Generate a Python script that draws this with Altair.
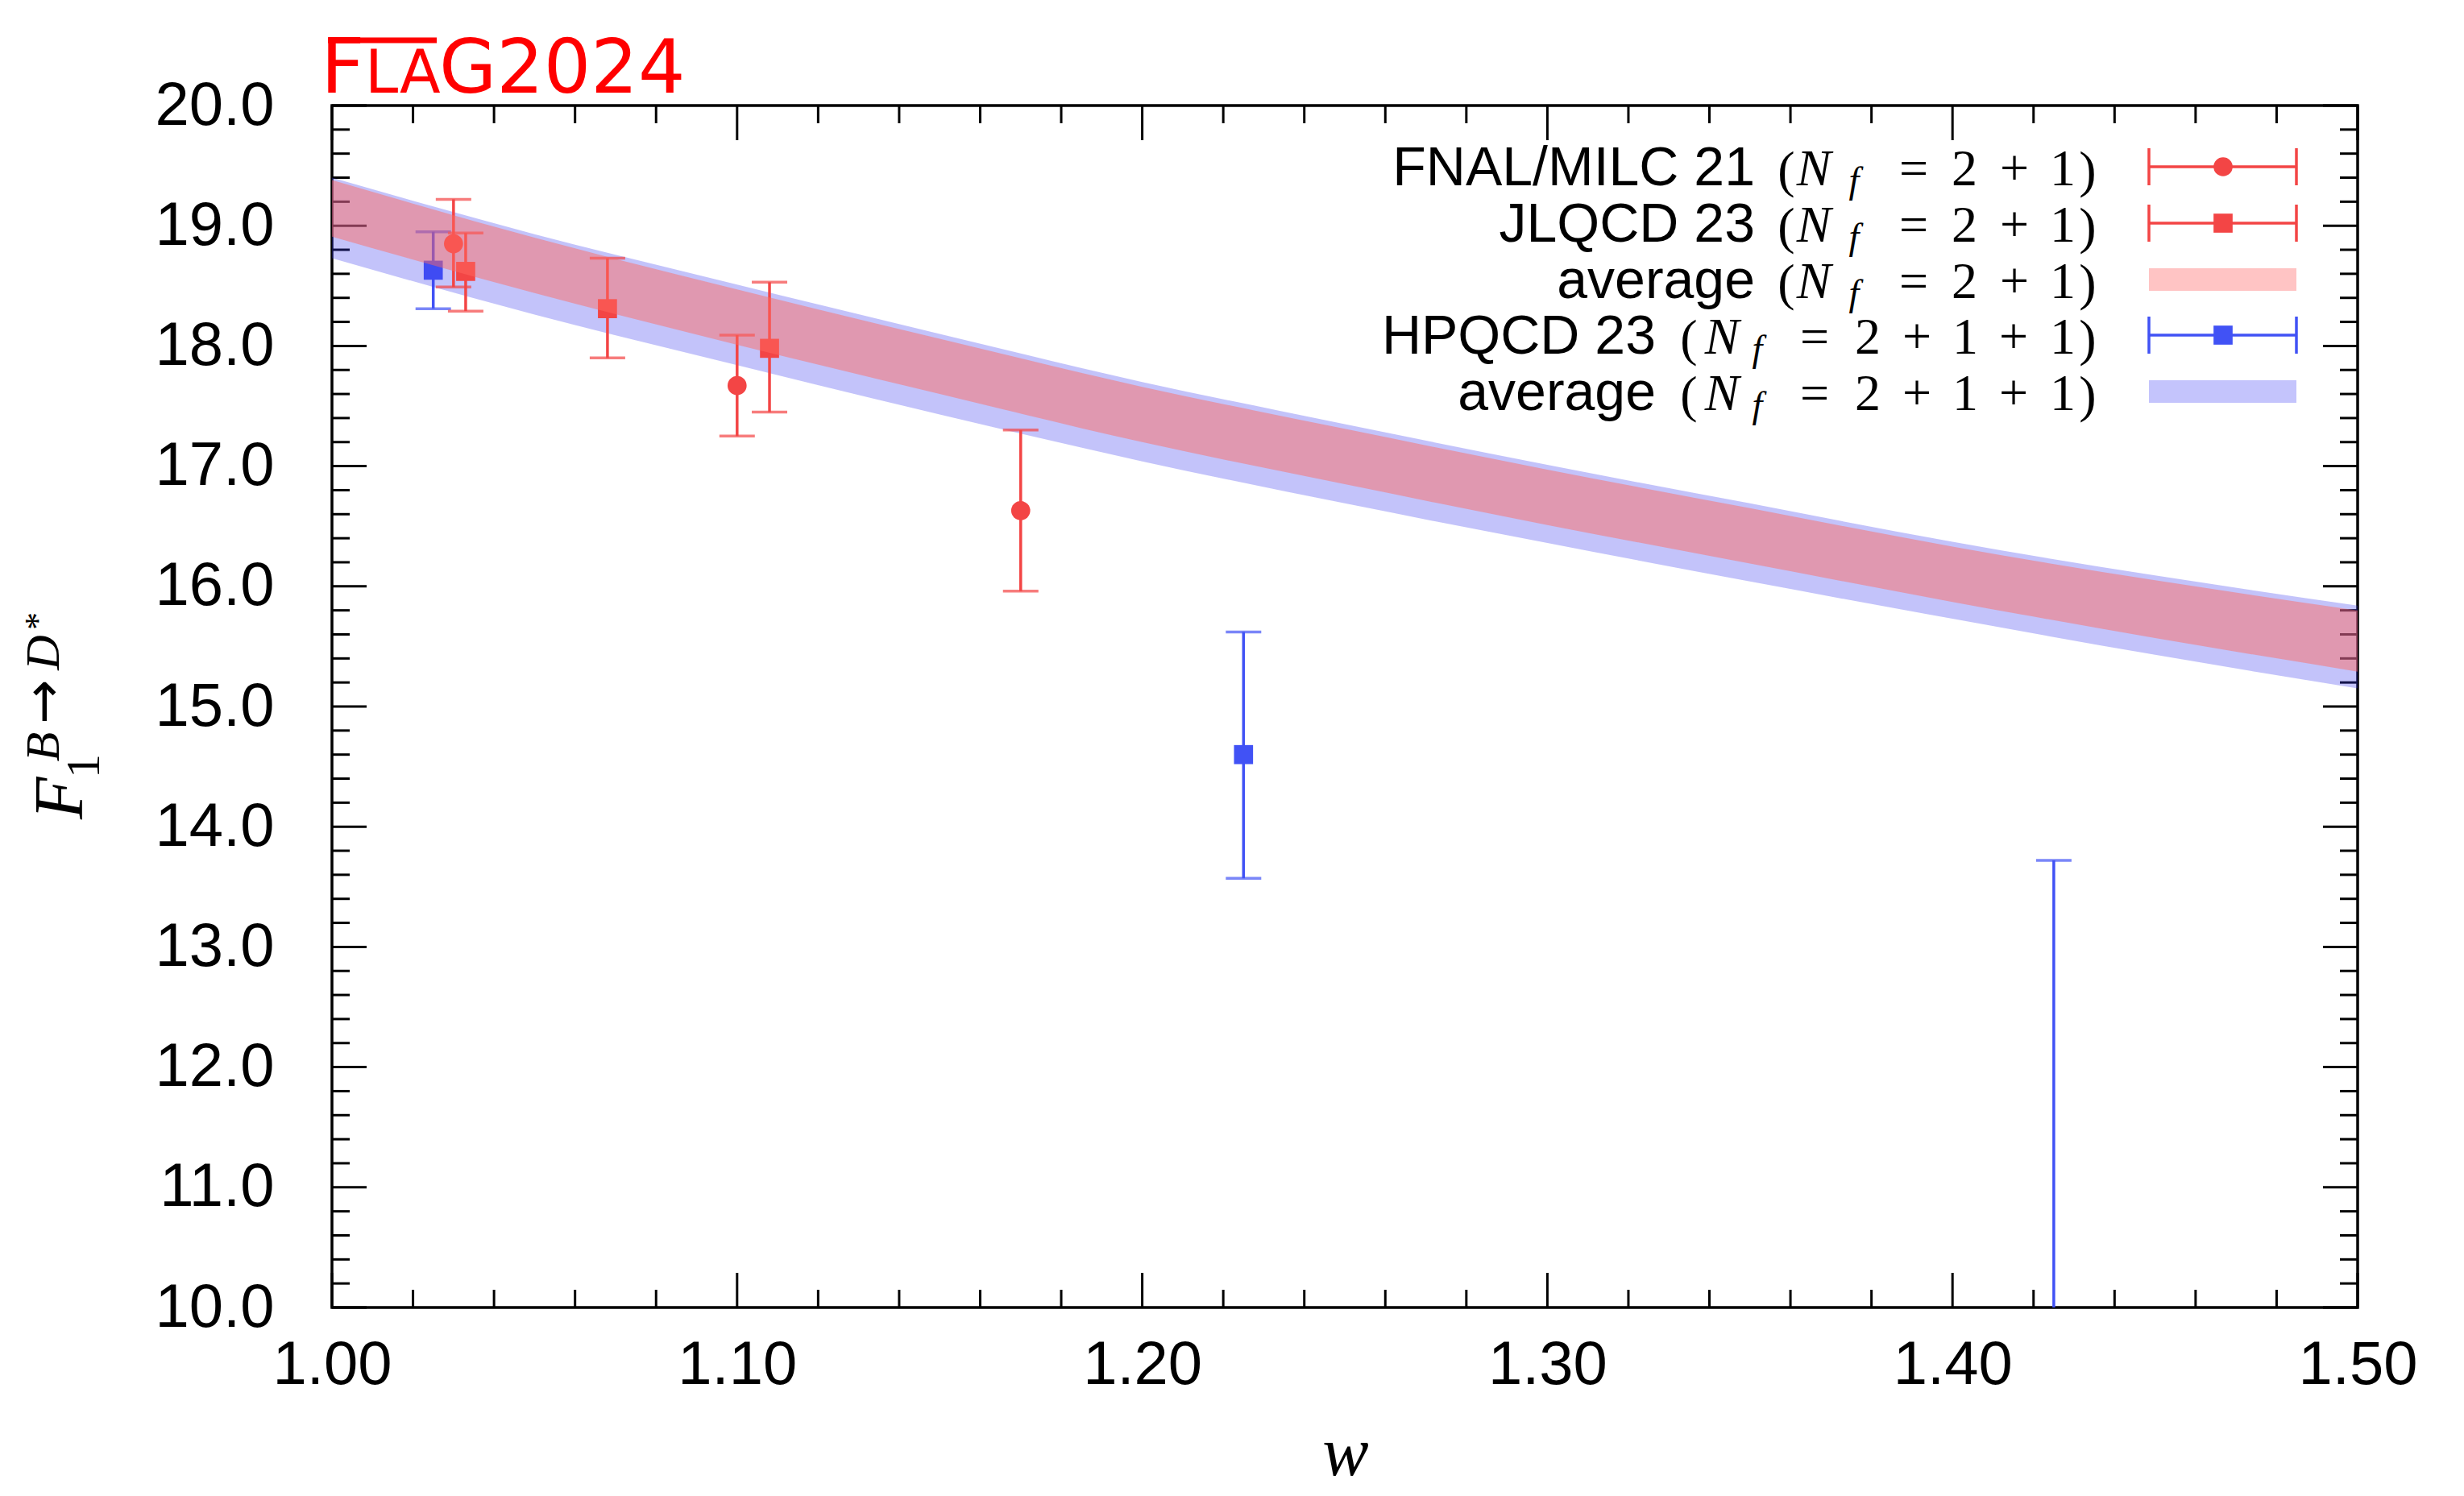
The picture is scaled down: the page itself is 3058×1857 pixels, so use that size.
import altair as alt
import pandas as pd

# ---------------- data ----------------
FNAL_W = [1.030, 1.100, 1.170]
FNAL_F = [18.85, 17.67, 16.63]
FNAL_LO = [18.49, 17.25, 15.96]
FNAL_HI = [19.22, 18.09, 17.30]

JLQCD_W = [1.033, 1.068, 1.108]
JLQCD_F = [18.62, 18.31, 17.98]
JLQCD_LO = [18.29, 17.90, 17.45]
JLQCD_HI = [18.94, 18.73, 18.53]

HPQCD_W = [1.025, 1.225, 1.425]
HPQCD_F = [18.63, 14.60, 9.60]
HPQCD_LO = [18.31, 13.57, 5.50]
HPQCD_HI = [18.95, 15.62, 13.72]

BAND_W = [1.00, 1.05, 1.10, 1.15, 1.20, 1.25, 1.30, 1.35, 1.40, 1.45, 1.50]
AVG21_LO = [18.91, 18.44, 18.01, 17.60, 17.20, 16.85, 16.51, 16.19, 15.87, 15.57, 15.29]
AVG21_HI = [19.38, 18.90, 18.47, 18.06, 17.66, 17.31, 16.97, 16.65, 16.33, 16.05, 15.80]
AVG211_LO = [18.73, 18.26, 17.84, 17.43, 17.04, 16.69, 16.36, 16.04, 15.73, 15.43, 15.15]
AVG211_HI = [19.40, 18.93, 18.51, 18.10, 17.70, 17.35, 17.01, 16.69, 16.37, 16.09, 15.84]

X_TICKS = [1.00, 1.10, 1.20, 1.30, 1.40, 1.50]
X_MINOR = [round(1.0 + 0.02 * i, 2) for i in range(26) if i % 5]
Y_TICKS = [10.0, 11.0, 12.0, 13.0, 14.0, 15.0, 16.0, 17.0, 18.0, 19.0, 20.0]
Y_MINOR = [round(10.0 + 0.2 * i, 1) for i in range(51) if i % 5]

LEG_LABELS = ["FNAL/MILC 21", "JLQCD 23", "average", "HPQCD 23", "average"]

# ---------------- layout / style ----------------
W, H = 2514, 1492
SANS = "Liberation Sans, Arial, sans-serif"
SERIF = "Liberation Serif, Times New Roman, serif"
TITLEF = "DejaVu Sans, sans-serif"
RED = "#F34545"
BLUE = "#4152F5"
FLAGRED = "#FF0000"
MAJ, MIN = 43, 22

xs = alt.Scale(domain=[1.0, 1.5], nice=False, zero=False)
ys = alt.Scale(domain=[10.0, 20.0], nice=False, zero=False)
xaxis = alt.Axis(values=X_TICKS, format=".2f", ticks=False, domain=False, grid=False,
                 labelFont=SANS, labelFontSize=76, labelColor="black", labelPadding=34,
                 labelFlush=False, labelOverlap=False, title=None)
yaxis = alt.Axis(values=Y_TICKS, format=".1f", ticks=False, domain=False, grid=False,
                 labelFont=SANS, labelFontSize=76, labelColor="black", labelPadding=72,
                 labelOverlap=False, title=None)


def X(f):
    return alt.X(f, type="quantitative", scale=xs, axis=xaxis)


def Y(f):
    return alt.Y(f, type="quantitative", scale=ys, axis=yaxis)


ONE = pd.DataFrame({"k": [0]})


def txt(s, x, y, size, font, style="normal", align="left", angle=0, color="black",
        baseline="alphabetic"):
    kw = dict(text=s, font=font, fontSize=size, fontStyle=style, align=align,
              baseline=baseline, color=color)
    if angle:
        kw["angle"] = angle
    return alt.Chart(ONE).mark_text(**kw).encode(x=alt.value(x), y=alt.value(y))


layers = []

# ---------------- inward ticks on all four sides ----------------
for vals, ln in ((X_TICKS, MAJ), (X_MINOR, MIN)):
    d = pd.DataFrame({"w": vals})
    layers.append(alt.Chart(d).mark_rule(color="black", strokeWidth=3)
                  .encode(x=X("w"), y=alt.value(H), y2=alt.value(H - ln)))
    layers.append(alt.Chart(d).mark_rule(color="black", strokeWidth=3)
                  .encode(x=X("w"), y=alt.value(0), y2=alt.value(ln)))
for vals, ln in ((Y_TICKS, MAJ), (Y_MINOR, MIN)):
    d = pd.DataFrame({"F": vals})
    layers.append(alt.Chart(d).mark_rule(color="black", strokeWidth=3)
                  .encode(y=Y("F"), x=alt.value(0), x2=alt.value(ln)))
    layers.append(alt.Chart(d).mark_rule(color="black", strokeWidth=3)
                  .encode(y=Y("F"), x=alt.value(W), x2=alt.value(W - ln)))


def points(wv, fv, lo, hi, color, shape):
    d = pd.DataFrame({"w": wv, "F": fv, "lo": lo, "hi": hi})
    eb = alt.Chart(d).mark_errorbar(ticks=True, size=44, thickness=3.5, color=color,
                                    clip=True).encode(x=X("w"), y=Y("lo"), y2="hi:Q")
    pt = alt.Chart(d).mark_point(shape=shape, filled=True, size=560, color=color,
                                 opacity=1, clip=True).encode(x=X("w"), y=Y("F"))
    return [eb, pt]


def band(lo, hi, color, op):
    d = pd.DataFrame({"w": BAND_W, "lo": lo, "hi": hi})
    return alt.Chart(d).mark_area(color=color, opacity=op, interpolate="monotone",
                                  clip=True).encode(x=X("w"), y=Y("lo"), y2="hi:Q")


layers += points(HPQCD_W, HPQCD_F, HPQCD_LO, HPQCD_HI, BLUE, "square")
layers.append(band(AVG211_LO, AVG211_HI, "#3C3CF0", 0.31))
layers += points(FNAL_W, FNAL_F, FNAL_LO, FNAL_HI, RED, "circle")
layers += points(JLQCD_W, JLQCD_F, JLQCD_LO, JLQCD_HI, RED, "square")
layers.append(band(AVG21_LO, AVG21_HI, "#FF6960", 0.48))

# ---------------- legend ----------------
ROW_Y = [99, 169, 239, 308, 378]
LAB_X = [1766, 1766, 1766, 1643, 1643]
TOK3 = [("(", 1805, "p"), ("N", 1839, "i"), ("f", 1889, "s"), ("=", 1963, "o"),
        ("2", 2026, "r"), ("+", 2088, "o"), ("1", 2148, "r"), (")", 2179, "p")]
TOK4 = [("(", 1684, "p"), ("N", 1725, "i"), ("f", 1769, "s"), ("=", 1840, "o"),
        ("2", 1906, "r"), ("+", 1967, "o"), ("1", 2027, "r"), ("+", 2087, "o"),
        ("1", 2148, "r"), (")", 2179, "p")]
for i, lab in enumerate(LEG_LABELS):
    yb = ROW_Y[i]
    layers.append(txt(lab, LAB_X[i], yb, 68, SANS, align="right"))
    for s, xc, kind in (TOK3 if i < 3 else TOK4):
        if kind == "p":
            layers.append(txt(s, xc, yb + 2, 64, SERIF, align="center"))
        elif kind == "i":
            layers.append(txt(s, xc, yb, 64, SERIF, style="italic", align="center"))
        elif kind == "s":
            layers.append(txt(s, xc, yb + 9, 46, SERIF, style="italic", align="center"))
        else:
            layers.append(txt(s, xc, yb, 64, SERIF, align="center"))

LX0, LX1, LXC = 2255, 2438, 2347
for yc, color, shape in ((76, RED, "circle"), (146, RED, "square"), (285, BLUE, "square")):
    layers.append(alt.Chart(ONE).mark_rule(color=color, strokeWidth=3.5)
                  .encode(x=alt.value(LX0), x2=alt.value(LX1), y=alt.value(yc)))
    for xe in (LX0, LX1):
        layers.append(alt.Chart(ONE).mark_rule(color=color, strokeWidth=3.5)
                      .encode(x=alt.value(xe), y=alt.value(yc - 23), y2=alt.value(yc + 23)))
    layers.append(alt.Chart(ONE).mark_point(shape=shape, filled=True, size=560, color=color,
                                            opacity=1)
                  .encode(x=alt.value(LXC), y=alt.value(yc)))
for y0, y1, color in ((202, 230, "#FFC4C4"), (341, 369, "#C4C4FC")):
    layers.append(alt.Chart(ONE).mark_rect(color=color)
                  .encode(x=alt.value(LX0), x2=alt.value(LX1), y=alt.value(y0), y2=alt.value(y1)))

# ---------------- titles ----------------
layers.append(txt("w", 1258, 1700, 86, SERIF, style="italic", align="center"))
layers.append(txt("F", -310, 886, 86, SERIF, style="italic", angle=270))
layers.append(txt("1", -289, 835, 60, SERIF, angle=270))
layers.append(txt("B", -339, 796, 60, SERIF, style="italic", angle=270, align="center"))
layers.append(txt("\u2192", -336, 740, 66, "DejaVu Sans, sans-serif", angle=270,
                  align="center"))
layers.append(txt("D", -339, 679, 60, SERIF, style="italic", angle=270, align="center"))
layers.append(txt("*", -351, 640, 44, SERIF, angle=270, align="center"))

layers.append(txt("F", -14, -16, 95, TITLEF, color=FLAGRED))
layers.append(txt("LA", 41, -16, 74, TITLEF, color=FLAGRED))
layers.append(txt("G2024", 133, -16, 92, TITLEF, color=FLAGRED))
layers.append(alt.Chart(ONE).mark_rule(color=FLAGRED, strokeWidth=7)
              .encode(x=alt.value(-5), x2=alt.value(130), y=alt.value(-81)))

chart = alt.layer(*layers).properties(
    width=W, height=H,
    autosize=alt.AutoSizeParams(type="none"),
    padding={"left": 404, "top": 123, "right": 124, "bottom": 226},
    background="white",
).configure_view(stroke="black", strokeWidth=3.5)

chart.save("out.html", embed_options={"renderer": "svg", "actions": False})
